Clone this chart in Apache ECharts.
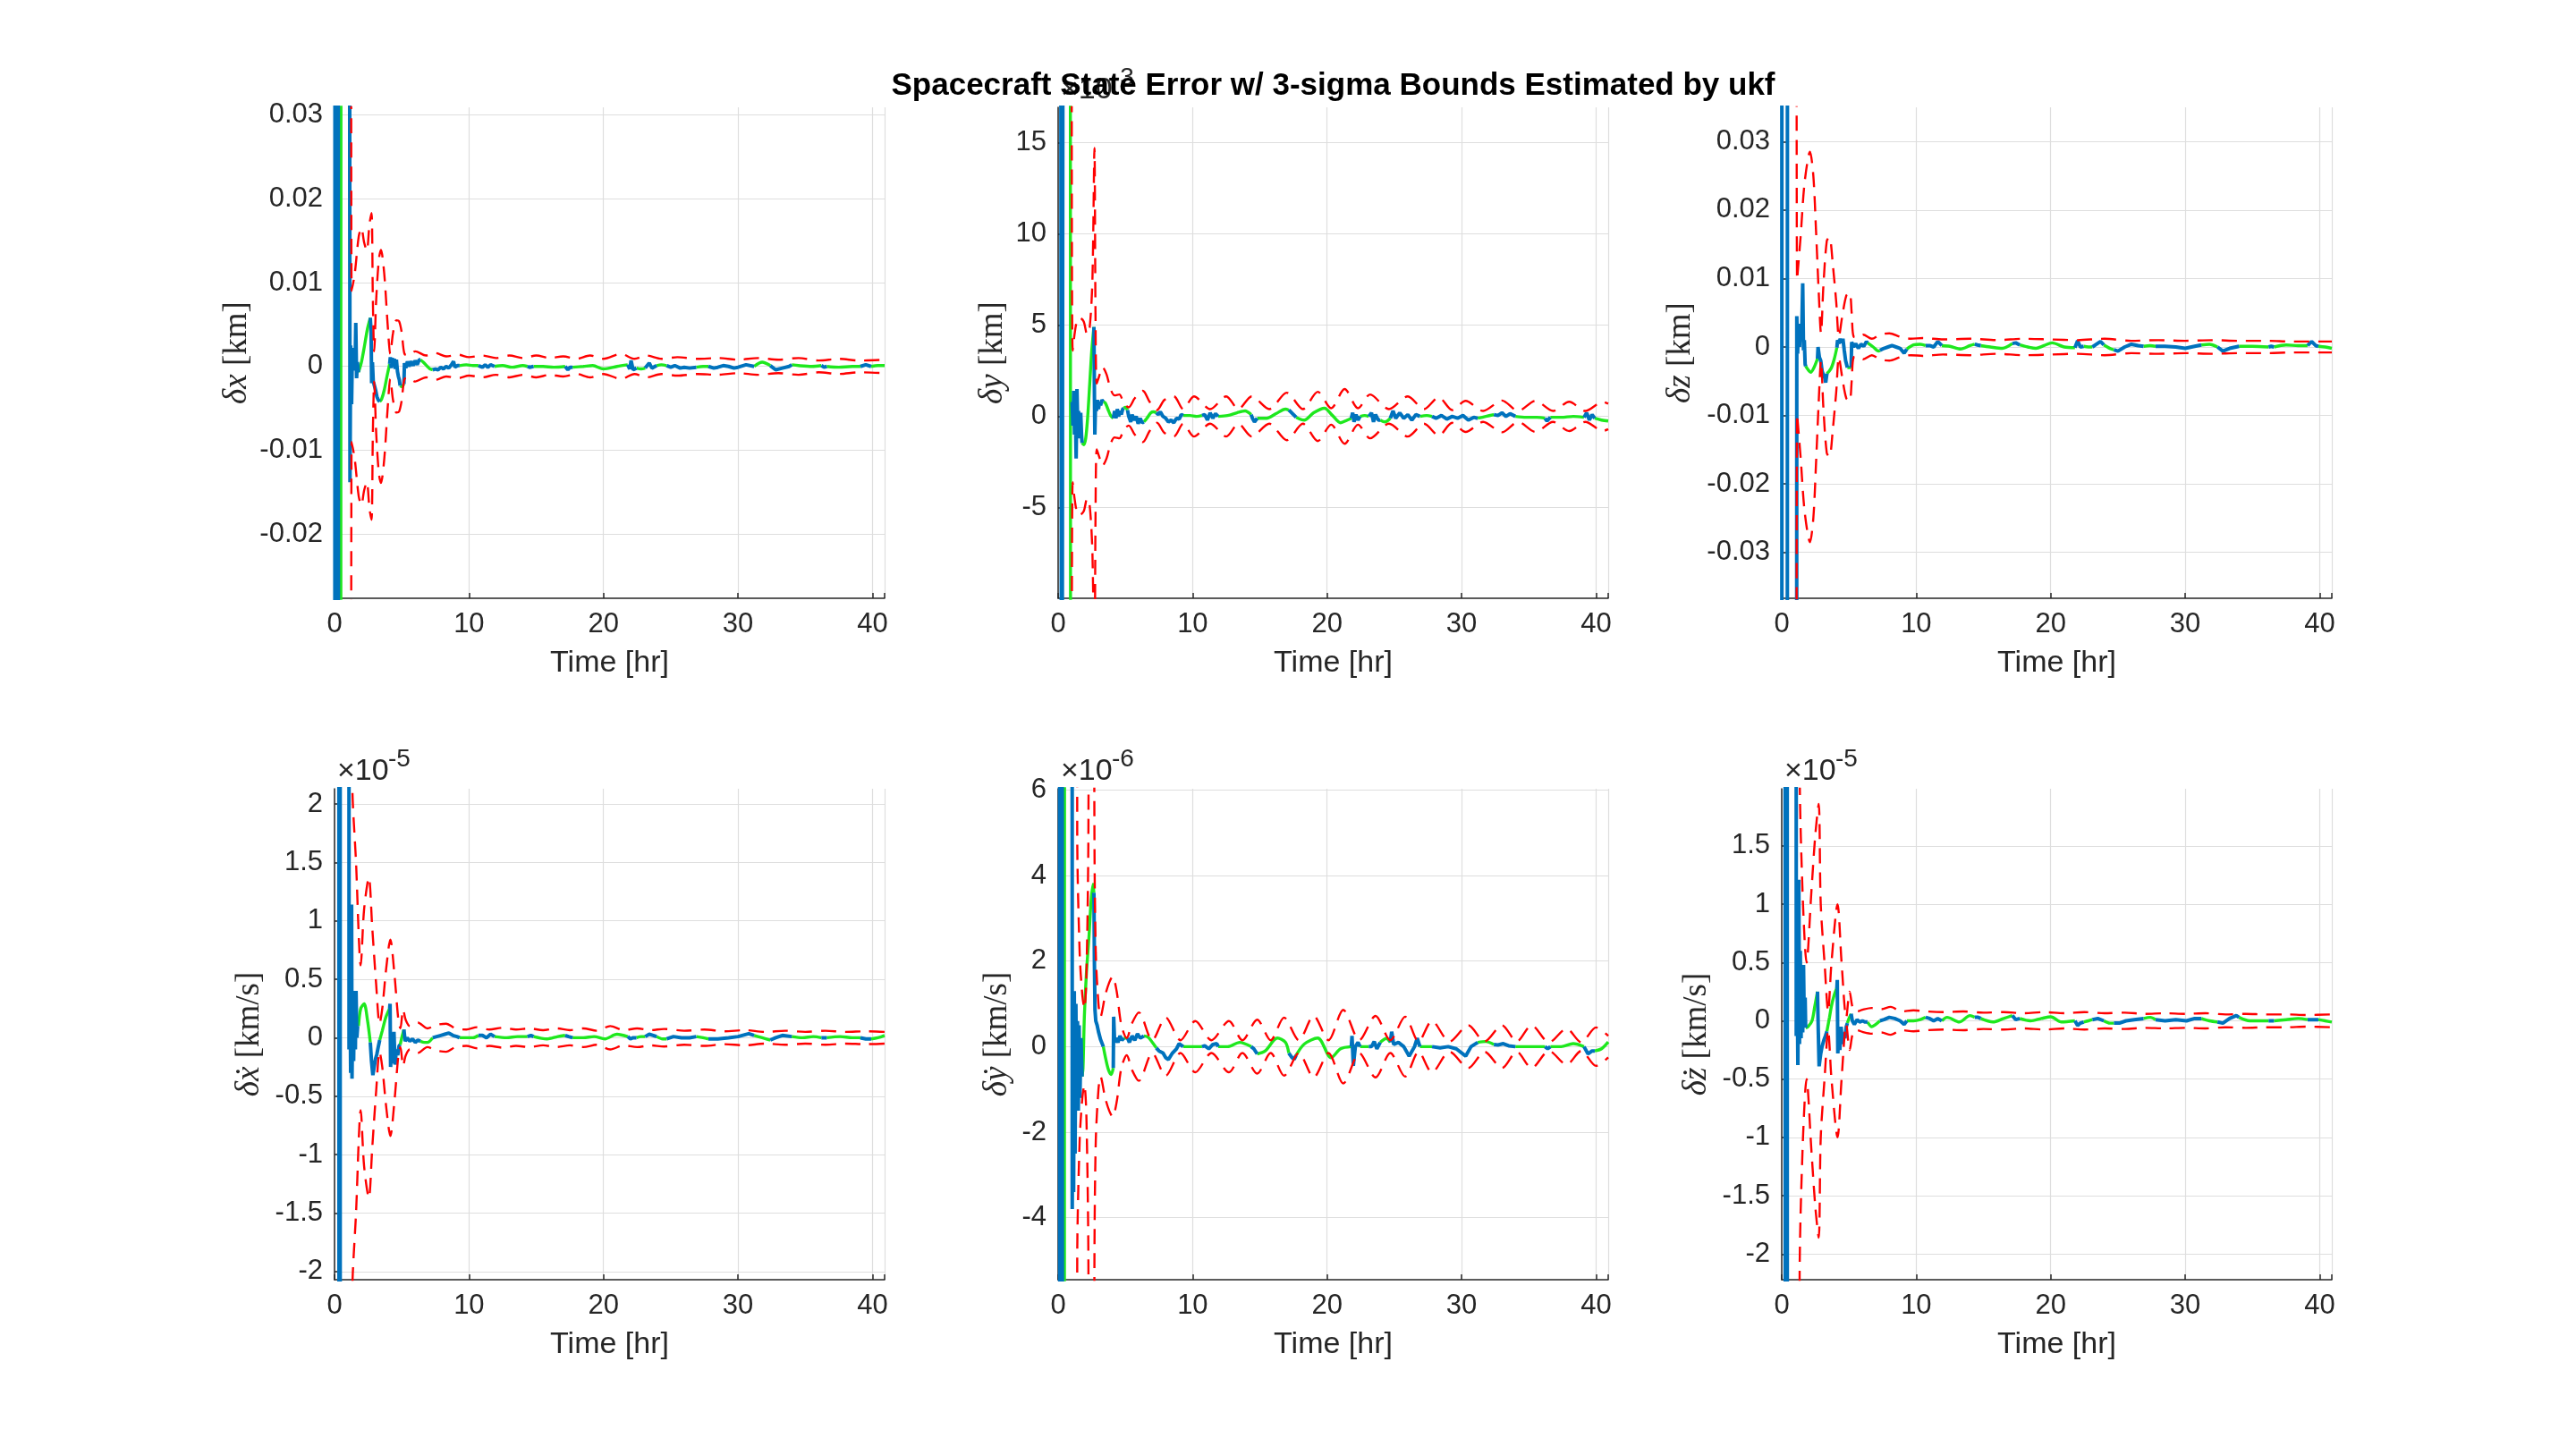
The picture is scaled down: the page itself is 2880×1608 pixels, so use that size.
<!DOCTYPE html>
<html>
<head>
<meta charset="utf-8">
<title>Spacecraft State Error</title>
<script src="https://cdn.jsdelivr.net/npm/echarts@6/dist/echarts.min.js"></script>
<style>
  html, body { margin: 0; padding: 0; background: #fff; }
  #chart { width: 2880px; height: 1608px; }
</style>
</head>
<body>
<div id="chart"></div>
<script>
const titleText = 'Spacecraft State Error w/ 3-sigma Bounds Estimated by ukf';
const timeMax = 40.9;
const xTicks = [0, 10, 20, 30, 40];

// hours where measurements were processed (blue), the rest is propagation (green)
const measWindows = [
  [0, 0.46], [1.03, 1.78], [2.66, 3.36], [4.1, 4.88], [5.16, 6.38],
  [7.3, 9.3], [10.7, 11.9], [14.35, 14.8], [17.15, 17.7], [21.8, 22.45],
  [23.1, 23.95], [24.7, 26.9], [27.8, 31.2], [32.4, 34.0], [36.2, 36.6],
  [39.1, 39.9]
];

// [time hr, error]; null marks a break in the trace
const dxErr = [
  [0, -0.3], [0.06, 0.3], [0.14, -0.3], [0.24, 0.3], [0.32, -0.3], [0.46, -0.3],
  [0.55, 0.3], [1.0, 0.3], [1.1, 0.3], [1.15, -0.0138], [1.2, 0.0025], [1.27, -0.0045],
  [1.33, 0.002], [1.4, -0.0005], [1.47, 0.0022], [1.53, 0.0], [1.58, 0.0052], [1.64, -0.0014],
  [1.7, 0.0005], [1.78, -0.0007],
  [2.0, 0.0005], [2.2, 0.0022], [2.45, 0.0045], [2.66, 0.0058],
  [2.72, 0.004], [2.76, -0.002], [2.82, 0.0005], [2.88, -0.0018], [2.95, -0.0022], [3.05, -0.0028],
  [3.15, -0.0036], [3.25, -0.004], [3.36, -0.0042],
  [3.5, -0.0039], [3.7, -0.0028], [3.9, -0.0012], [4.1, 0.0003],
  [4.15, 0.0011], [4.22, -0.0002], [4.3, 0.001], [4.38, 0.0], [4.45, 0.0009], [4.52, -0.0003],
  [4.6, 0.0008], [4.68, -0.0006], [4.75, -0.0012], [4.82, -0.0016], [4.88, -0.0023],
  [5.0, -0.0024], [5.16, -0.0021],
  [5.2, 0.0004], [5.3, -0.0002], [5.42, 0.0006], [5.55, 0.0], [5.7, 0.0006], [5.85, 0.0001],
  [6.0, 0.0007], [6.15, 0.0002], [6.3, 0.0008], [6.38, 0.0008],
  [6.6, 0.0005], [6.9, 0.0], [7.1, -0.0003], [7.3, -0.0004],
  [7.5, -0.0003], [7.7, -0.0004], [7.9, -0.0001], [8.1, -0.0003], [8.3, 0.0], [8.5, -0.0002],
  [8.7, 0.0002], [8.85, 0.0006], [8.95, -0.0001], [9.15, 0.0001], [9.3, 0.0001],
  [9.8, 0.0002], [10.3, 0.0001], [10.7, 0.0001],
  [11.0, -0.0001], [11.2, 0.0002], [11.4, -0.0001], [11.6, 0.0002], [11.9, 0.0],
  [12.5, 0.0001], [13.2, -0.0001], [14.0, 0.0001], [14.35, 0.0],
  [14.5, -0.0001], [14.8, 0.0],
  [15.5, 0.0], [16.3, -0.0001], [17.15, 0.0],
  [17.35, -0.0004], [17.5, -0.0001], [17.7, -0.0001],
  [18.5, 0.0], [19.2, 0.0001], [20.0, -0.0003], [21.0, 0.0], [21.8, 0.0002],
  [21.95, -0.0003], [22.05, 0.0007], [22.2, -0.0004], [22.45, -0.0002],
  [22.8, -0.0003], [23.1, -0.0002],
  [23.4, 0.0004], [23.6, -0.0002], [23.95, 0.0001],
  [24.3, 0.0002], [24.7, 0.0001],
  [25.0, -0.0001], [25.3, 0.0001], [25.7, -0.0002], [26.0, -0.0001], [26.4, -0.0002], [26.9, -0.0001],
  [27.4, 0.0], [27.8, 0.0],
  [28.2, -0.0002], [28.5, -0.0001], [28.9, 0.0001], [29.3, 0.0], [29.7, -0.0002], [30.0, -0.0001],
  [30.6, 0.0002], [31.2, 0.0],
  [31.8, 0.0005], [32.4, 0.0001],
  [32.8, -0.0004], [33.3, -0.0002], [33.8, 0.0], [34.0, 0.0002],
  [34.5, 0.0001], [35.5, 0.0], [36.2, 0.0001],
  [36.4, -0.0001], [36.6, 0.0],
  [37.5, -0.0001], [38.5, 0.0], [39.1, 0.0],
  [39.5, 0.0002], [39.9, 0.0],
  [40.4, 0.0001], [40.9, 0.0001]
];
const dxSigma = [
  [0, 1], [1.15, 0.8], [1.27, 0.009], [1.5, 0.011], [1.8, 0.0155], [2.0, 0.0165], [2.2, 0.0148],
  [2.4, 0.0138], [2.6, 0.017], [2.75, 0.0183], [2.85, 0.008], [2.95, 0.0018], [3.1, 0.008],
  [3.3, 0.0128], [3.45, 0.0139], [3.7, 0.011], [3.95, 0.005], [4.15, 0.0015], [4.35, 0.004],
  [4.6, 0.0055], [4.8, 0.0054], [5.0, 0.004], [5.2, 0.0015], [5.5, 0.0013], [6.0, 0.0018],
  [6.8, 0.0013], [7.5, 0.0016], [8.3, 0.0012], [9.2, 0.0014], [10, 0.0011], [11, 0.0013],
  [12, 0.001], [13, 0.0013], [14, 0.001], [15, 0.0013], [16, 0.001], [17, 0.0012], [18, 0.0009],
  [19, 0.0013], [20, 0.0009], [21.3, 0.0015], [22.3, 0.0009], [23.2, 0.0013], [24.3, 0.0009],
  [25.5, 0.0011], [27, 0.0009], [28.5, 0.001], [30, 0.0008], [31.5, 0.001], [33, 0.0008],
  [34.5, 0.001], [36, 0.0007], [37.5, 0.0009], [39, 0.0007], [40.9, 0.0008]
];

// δy in 1e-3 km
const dyErr = [
  [0.18, 40], [0.27, -40], [0.38, 40], [0.46, 40], [0.85, 40], [0.95, -40], [1.02, -40], [1.025, null],
  [1.04, 0.8], [1.1, -0.5], [1.16, 1.4], [1.22, -1.0], [1.28, 0.5], [1.34, -2.3], [1.4, 1.5],
  [1.46, -0.6], [1.52, 0.3], [1.6, -1.2], [1.68, 0.2], [1.74, -1.0], [1.78, -1.45],
  [1.9, -1.55], [2.05, -1.2], [2.2, 0.0], [2.35, 1.8], [2.5, 3.6], [2.66, 4.9],
  [2.7, 1.0], [2.73, -1.0], [2.78, 0.7], [2.85, 0.3], [2.92, 0.9], [3.0, 0.4], [3.08, 0.8],
  [3.16, 0.6], [3.25, 0.9], [3.36, 0.8],
  [3.5, 0.75], [3.7, 0.4], [3.9, 0.05], [4.1, -0.1],
  [4.2, 0.3], [4.3, -0.1], [4.4, 0.4], [4.5, 0.0], [4.6, 0.3], [4.7, 0.1], [4.8, 0.4], [4.88, 0.45],
  [5.0, 0.5], [5.16, 0.35],
  [5.25, 0.0], [5.4, -0.3], [5.5, 0.1], [5.65, -0.2], [5.8, 0.0], [5.95, -0.4], [6.1, -0.1],
  [6.25, -0.35], [6.38, -0.3],
  [6.6, -0.1], [6.9, 0.2], [7.1, 0.25], [7.3, 0.2],
  [7.45, 0.1], [7.6, 0.25], [7.8, 0.0], [8.0, -0.1], [8.2, -0.3], [8.4, -0.2], [8.6, -0.35],
  [8.8, -0.1], [9.0, -0.15], [9.15, 0.1], [9.3, 0.05],
  [9.8, 0.05], [10.3, 0.0], [10.7, 0.05],
  [10.9, 0.1], [11.1, -0.2], [11.3, 0.2], [11.5, -0.1], [11.7, 0.15], [11.9, 0.0],
  [12.6, 0.05], [13.3, 0.2], [13.9, 0.3], [14.35, 0.1],
  [14.45, -0.1], [14.6, -0.3], [14.8, -0.1],
  [15.5, -0.1], [16.2, 0.15], [16.9, 0.4], [17.15, 0.35],
  [17.3, 0.25], [17.5, 0.1], [17.7, -0.05],
  [18.3, -0.2], [19.0, 0.2], [19.8, 0.45], [20.4, 0.05], [21.0, -0.35], [21.5, -0.2], [21.8, -0.1],
  [21.9, 0.2], [22.0, -0.3], [22.15, 0.1], [22.3, -0.2], [22.45, 0.0],
  [22.8, 0.05], [23.1, 0.0],
  [23.3, 0.2], [23.45, -0.3], [23.6, 0.1], [23.8, -0.2], [23.95, -0.2],
  [24.3, -0.3], [24.7, -0.1],
  [24.9, 0.3], [25.1, -0.1], [25.4, 0.2], [25.7, -0.1], [26.0, 0.1], [26.3, -0.2], [26.6, 0.1], [26.9, 0.0],
  [27.4, 0.05], [27.8, 0.0],
  [28.1, -0.1], [28.5, 0.05], [28.9, -0.15], [29.3, 0.0], [29.7, -0.1], [30.1, 0.05], [30.5, -0.2],
  [30.9, -0.05], [31.2, -0.1],
  [31.8, 0.0], [32.4, 0.1],
  [32.7, 0.05], [33.0, 0.2], [33.3, 0.0], [33.6, 0.15], [34.0, 0.0],
  [34.8, -0.05], [35.6, -0.05], [36.2, -0.1],
  [36.35, -0.25], [36.6, -0.05],
  [37.4, -0.05], [38.3, 0.0], [39.1, -0.05],
  [39.3, 0.2], [39.5, -0.2], [39.7, 0.1], [39.9, -0.1],
  [40.4, -0.2], [40.9, -0.25]
];
const dySigma = [
  [0, 200], [0.95, 60], [1.08, 3.6], [1.35, 5.1], [1.6, 5.4], [1.9, 5.2], [2.15, 4.5], [2.35, 4.9],
  [2.55, 7.5], [2.7, 14.7], [2.78, 5.5], [2.87, 1.8], [3.05, 2.2], [3.3, 2.7], [3.6, 2.3],
  [3.9, 1.5], [4.2, 1.15], [4.55, 1.2], [4.9, 0.7], [5.25, 0.5], [5.7, 1.0], [6.3, 1.4],
  [6.8, 0.8], [7.35, 0.35], [7.9, 0.9], [8.6, 1.1], [9.3, 0.4], [10.1, 1.1], [11.3, 0.4],
  [12.5, 1.1], [13.4, 0.4], [14.4, 1.1], [15.7, 0.4], [17.0, 1.3], [18.2, 0.4], [19.3, 1.35],
  [20.3, 0.45], [21.3, 1.5], [22.3, 0.45], [23.2, 1.2], [24.6, 0.4], [26.0, 1.1], [27.2, 0.4],
  [28.3, 1.05], [29.3, 0.35], [30.3, 0.85], [31.6, 0.3], [33.0, 0.87], [34.2, 0.3], [35.5, 0.85],
  [36.8, 0.3], [38.0, 0.8], [39.2, 0.3], [40.5, 0.8], [40.9, 0.7]
];

const dzErr = [
  [0, 0.3], [0.02, -0.3], [0.4, -0.3], [0.44, 0.3], [0.46, 0.3], [1.05, 0.3], [1.06, null],
  [1.08, -0.3], [1.12, 0.0045], [1.18, -0.001], [1.25, 0.0034], [1.32, 0.0], [1.4, 0.003],
  [1.48, 0.0015], [1.56, 0.0093], [1.62, -0.0005], [1.68, 0.001], [1.74, -0.0025], [1.78, -0.0028],
  [1.95, -0.0033], [2.15, -0.0037], [2.4, -0.003], [2.66, -0.0017],
  [2.7, 0.0], [2.8, -0.0015], [2.9, -0.002], [3.0, -0.0035], [3.1, -0.0041], [3.2, -0.0045],
  [3.27, -0.0052], [3.36, -0.0039],
  [3.5, -0.0036], [3.7, -0.003], [3.9, -0.0018], [4.1, -0.0001],
  [4.15, 0.001], [4.25, 0.0005], [4.35, 0.0012], [4.45, 0.0006], [4.55, 0.0012], [4.65, -0.0005],
  [4.75, -0.002], [4.88, -0.003],
  [5.0, -0.003], [5.16, -0.003],
  [5.2, 0.0007], [5.35, 0.0], [5.5, 0.0005], [5.7, -0.0002], [5.9, 0.0004], [6.1, 0.0001],
  [6.3, 0.0008], [6.38, 0.0006],
  [6.8, 0.0], [7.2, -0.0006], [7.3, -0.0005],
  [7.6, -0.0002], [7.9, 0.0], [8.2, 0.0002], [8.5, 0.0], [8.8, -0.0002], [9.1, -0.0009], [9.3, -0.0003],
  [9.8, 0.0003], [10.3, 0.0004], [10.7, 0.0002],
  [11.0, 0.0002], [11.3, 0.0], [11.6, 0.0008], [11.9, 0.0002],
  [12.5, 0.0001], [13.3, -0.0003], [14.0, 0.0002], [14.35, 0.0004],
  [14.55, 0.0003], [14.8, 0.0002],
  [15.5, 0.0], [16.4, -0.0002], [17.15, 0.0005],
  [17.4, 0.0006], [17.7, 0.0003],
  [18.3, 0.0], [18.9, -0.0002], [19.5, 0.0002], [20.1, 0.0006], [21.0, 0.0], [21.8, -0.0001],
  [22.0, 0.0009], [22.2, 0.0], [22.45, 0.0001],
  [22.8, 0.0], [23.1, 0.0],
  [23.4, 0.0004], [23.7, 0.0008], [23.95, 0.0003],
  [24.5, -0.0003], [24.7, -0.0004],
  [25.0, -0.0006], [25.5, 0.0], [26.0, 0.0004], [26.5, 0.0002], [26.9, 0.0001],
  [27.4, 0.0002], [27.8, 0.0001],
  [28.5, 0.0001], [29.3, 0.0], [30.0, -0.0002], [30.7, 0.0001], [31.2, 0.0003],
  [31.8, 0.0004], [32.4, 0.0],
  [32.8, -0.0006], [33.3, -0.0002], [34.0, 0.0001],
  [35.0, 0.0001], [36.2, 0.0],
  [36.4, 0.0001], [36.6, 0.0],
  [37.5, 0.0003], [38.4, 0.0002], [39.1, 0.0002],
  [39.4, 0.0008], [39.7, 0.0002], [39.9, 0.0001],
  [40.4, 0.0], [40.9, -0.0002]
];
const dzSigma = [
  [0, 1], [1.05, 0.5], [1.14, 0.0098], [1.4, 0.016], [1.7, 0.024], [2.1, 0.0285], [2.35, 0.025],
  [2.55, 0.017], [2.75, 0.008], [2.92, 0.002], [3.1, 0.009], [3.35, 0.0155], [3.55, 0.016],
  [3.8, 0.012], [4.05, 0.0066], [4.25, 0.0015], [4.5, 0.0045], [4.8, 0.0075], [5.05, 0.0079],
  [5.2, 0.005], [5.35, 0.0015], [5.7, 0.0014], [6.05, 0.0018], [6.7, 0.0012], [7.3, 0.0018],
  [8.0, 0.002], [8.8, 0.0015], [9.6, 0.0012], [10.5, 0.0013], [12, 0.0011], [14, 0.0012],
  [16, 0.001], [18, 0.0012], [20, 0.0011], [22, 0.001], [24, 0.0012], [26, 0.0009], [28, 0.001],
  [30, 0.0009], [32, 0.001], [34, 0.0009], [36, 0.0009], [38, 0.0008], [40.9, 0.0008]
];

// δẋ and δż in 1e-5 km/s, δẏ in 1e-6 km/s
const dvxErr = [
  [0, 30], [0.3, 30], [0.36, -30], [0.4, 30], [0.44, -30], [0.46, -30], [1.0, -30], [1.02, null],
  [1.04, 30], [1.08, -0.1], [1.14, 0.6], [1.2, -0.3], [1.27, 1.14], [1.3, -0.35], [1.36, 0.3],
  [1.42, -0.2], [1.48, 0.4], [1.55, -0.1], [1.6, 0.4], [1.66, 0.0], [1.72, 0.1], [1.78, 0.1],
  [1.95, 0.25], [2.2, 0.29], [2.45, 0.15], [2.66, -0.04],
  [2.75, -0.2], [2.85, -0.32], [2.95, -0.25], [3.05, -0.18], [3.15, -0.14], [3.25, -0.08], [3.36, -0.02],
  [3.55, 0.06], [3.8, 0.17], [4.05, 0.24], [4.1, 0.25],
  [4.13, 0.29], [4.17, -0.25], [4.25, 0.0], [4.32, -0.22], [4.42, 0.05], [4.5, -0.23], [4.6, -0.1],
  [4.7, -0.15], [4.8, -0.07], [4.88, -0.06],
  [5.0, 0.0], [5.16, 0.07],
  [5.25, -0.03], [5.4, 0.0], [5.6, -0.03], [5.8, -0.01], [6.0, -0.04], [6.2, -0.02], [6.38, -0.03],
  [6.7, -0.04], [6.9, -0.04], [7.3, 0.0],
  [7.6, 0.01], [7.9, 0.02], [8.2, 0.03], [8.5, 0.04], [8.8, 0.02], [9.1, 0.01], [9.3, 0.0],
  [9.8, 0.0], [10.3, 0.0], [10.7, 0.02],
  [11.0, 0.02], [11.3, 0.0], [11.6, 0.03], [11.9, 0.01],
  [12.8, 0.0], [13.6, 0.01], [14.35, 0.01],
  [14.6, 0.02], [14.8, 0.01],
  [15.8, -0.01], [16.6, 0.01], [17.15, 0.02],
  [17.4, 0.01], [17.7, 0.0],
  [18.5, 0.0], [19.3, 0.01], [20.1, -0.01], [21.0, 0.03], [21.8, 0.01],
  [22.0, -0.01], [22.2, 0.0], [22.45, 0.0],
  [22.8, 0.01], [23.1, 0.01],
  [23.4, 0.03], [23.7, 0.02], [23.95, 0.01],
  [24.4, -0.01], [24.7, -0.01],
  [25.2, 0.01], [25.8, 0.0], [26.4, 0.0], [26.9, 0.01],
  [27.4, 0.0], [27.8, -0.01],
  [28.5, -0.01], [29.3, 0.0], [30.0, 0.01], [30.8, 0.035], [31.2, 0.02],
  [31.8, 0.0], [32.4, -0.02],
  [32.8, 0.0], [33.3, 0.02], [34.0, 0.01],
  [34.8, 0.0], [35.6, 0.01], [36.2, 0.0],
  [36.4, 0.0], [36.6, 0.0],
  [37.6, 0.01], [38.5, 0.0], [39.1, 0.0],
  [39.5, -0.01], [39.9, -0.01],
  [40.4, 0.0], [40.9, 0.02]
];
const dvxSigma = [
  [0, 100], [1.2, 20], [1.32, 2.2], [1.6, 1.5], [1.95, 0.62], [2.2, 1.1], [2.55, 1.37], [2.8, 0.95],
  [3.1, 0.45], [3.35, 0.12], [3.55, 0.25], [3.85, 0.6], [4.15, 0.84], [4.45, 0.55], [4.75, 0.15],
  [4.9, 0.08], [5.1, 0.24], [5.3, 0.15], [5.6, 0.1], [6.2, 0.13], [6.9, 0.08], [7.6, 0.11],
  [8.3, 0.12], [9.0, 0.08], [9.8, 0.07], [10.6, 0.09], [11.5, 0.07], [12.5, 0.085], [13.5, 0.07],
  [14.5, 0.08], [15.5, 0.065], [16.5, 0.08], [17.5, 0.065], [18.5, 0.08], [19.5, 0.06], [20.5, 0.1],
  [21.5, 0.065], [22.5, 0.08], [23.5, 0.065], [24.5, 0.075], [26, 0.06], [27.5, 0.07], [29, 0.055],
  [30.5, 0.065], [32, 0.05], [33.5, 0.06], [35, 0.05], [36.5, 0.06], [38, 0.05], [39.5, 0.055],
  [40.9, 0.05]
];

const dvyErr = [
  [0.08, 60], [0.16, -60], [0.26, 60], [0.36, -60], [0.46, -60], [0.54, 60], [0.98, 60],
  [1.02, 60], [1.05, -3.8], [1.1, 1.2], [1.15, -3.4], [1.2, 1.3], [1.26, -2.5], [1.32, 1.0],
  [1.38, -1.5], [1.44, 0.6], [1.5, -1.5], [1.56, 0.5], [1.62, -1.2], [1.7, 0.2], [1.78, -0.7],
  [1.85, -0.5], [1.95, 0.7], [2.1, 1.7], [2.3, 2.6], [2.45, 3.4], [2.6, 3.8], [2.66, 3.6],
  [2.7, 1.9], [2.74, 0.86], [2.8, 0.6], [2.9, 0.5], [3.0, 0.35], [3.15, 0.17], [3.36, 0.0],
  [3.55, -0.3], [3.75, -0.55], [3.95, -0.65], [4.1, -0.5],
  [4.13, 0.7], [4.2, 0.1], [4.3, 0.2], [4.45, 0.1], [4.6, 0.25], [4.75, 0.15], [4.88, 0.2],
  [5.0, 0.2], [5.16, 0.2],
  [5.3, 0.1], [5.5, 0.25], [5.7, 0.15], [5.9, 0.3], [6.1, 0.2], [6.38, 0.25],
  [6.7, 0.22], [7.0, 0.1], [7.3, -0.03],
  [7.5, -0.1], [7.8, -0.15], [8.0, -0.26], [8.2, -0.3], [8.5, -0.15], [8.8, -0.05], [9.0, 0.07], [9.3, 0.0],
  [9.8, 0.0], [10.3, 0.0], [10.7, 0.0],
  [10.9, 0.02], [11.2, -0.05], [11.5, 0.05], [11.8, 0.07], [11.9, 0.0],
  [12.6, 0.0], [13.5, 0.1], [14.35, 0.0],
  [14.55, -0.05], [14.8, -0.17],
  [15.4, -0.1], [16.3, 0.2], [16.9, 0.1], [17.15, -0.15],
  [17.4, -0.26], [17.55, -0.3], [17.7, -0.2],
  [18.3, 0.06], [19.3, 0.2], [20.3, -0.26], [21.0, -0.05], [21.8, 0.0],
  [21.85, 0.25], [21.95, -0.45], [22.1, 0.0], [22.3, 0.1], [22.45, 0.0],
  [22.8, 0.0], [23.1, 0.0],
  [23.3, 0.0], [23.5, 0.12], [23.7, -0.05], [23.95, 0.1],
  [24.4, 0.19], [24.7, 0.1],
  [24.8, 0.35], [24.95, 0.05], [25.3, 0.1], [25.7, 0.0], [26.1, -0.22], [26.5, 0.0], [26.7, 0.2], [26.9, 0.0],
  [27.4, 0.0], [27.8, 0.0],
  [28.4, -0.03], [29.0, 0.0], [29.6, -0.05], [30.3, -0.22], [30.7, 0.0], [31.2, 0.1],
  [31.8, 0.12], [32.4, 0.05],
  [32.7, 0.04], [33.1, 0.07], [33.5, 0.02], [34.0, 0.0],
  [34.8, 0.0], [35.6, 0.0], [36.2, 0.0],
  [36.4, -0.05], [36.6, 0.0],
  [37.4, 0.0], [38.3, 0.07], [39.1, 0.0],
  [39.4, -0.17], [39.7, -0.1], [39.9, -0.1],
  [40.4, -0.05], [40.9, 0.11]
];
const dvySigma = [
  [0, 300], [1.3, 100], [1.42, 5], [1.6, 2.2], [1.8, 1.2], [1.95, 0.9], [2.1, 1.6], [2.25, 5],
  [2.35, 20], [2.6, 20], [2.7, 5], [2.8, 2.2], [3.0, 1.0], [3.15, 0.7], [3.5, 1.2], [3.8, 1.5],
  [4.05, 1.64], [4.35, 1.3], [4.7, 0.5], [5.1, 0.2], [5.5, 0.55], [6.0, 0.8], [7.0, 0.15],
  [8.0, 0.68], [9.1, 0.15], [10.2, 0.6], [11.4, 0.15], [12.7, 0.6], [13.7, 0.15], [14.8, 0.63],
  [15.8, 0.15], [16.8, 0.68], [17.9, 0.15], [19.0, 0.72], [20.1, 0.15], [21.2, 0.86], [22.4, 0.15],
  [23.6, 0.72], [24.7, 0.15], [25.8, 0.7], [26.8, 0.12], [27.8, 0.6], [29.1, 0.12], [30.5, 0.5],
  [31.7, 0.12], [33.0, 0.5], [34.1, 0.12], [35.2, 0.5], [36.5, 0.1], [37.8, 0.42], [38.9, 0.1],
  [40.0, 0.45], [40.9, 0.25]
];

const dvzErr = [
  [0, 30], [0.22, 30], [0.3, -30], [0.38, 30], [0.44, -30], [0.46, -30], [1.0, -30], [1.02, null],
  [1.04, 30], [1.08, -0.13], [1.14, 0.5], [1.2, -0.38], [1.27, 1.21], [1.32, -0.2], [1.38, 0.6],
  [1.44, -0.15], [1.5, 0.4], [1.56, -0.1], [1.62, 0.48], [1.68, -0.05], [1.74, 0.2], [1.78, -0.06],
  [1.95, -0.05], [2.25, 0.0], [2.45, 0.12], [2.66, 0.25],
  [2.72, -0.1], [2.78, -0.39], [2.9, -0.28], [3.0, -0.22], [3.15, -0.16], [3.25, -0.13], [3.36, -0.09],
  [3.55, 0.03], [3.7, 0.13], [3.9, 0.22], [4.05, 0.27], [4.1, 0.28],
  [4.13, 0.35], [4.17, -0.28], [4.25, -0.1], [4.32, -0.25], [4.42, -0.05], [4.5, -0.2], [4.6, -0.1],
  [4.7, -0.15], [4.8, -0.05], [4.88, -0.02],
  [5.0, 0.02], [5.16, 0.06],
  [5.25, 0.0], [5.4, -0.03], [5.6, 0.01], [5.8, -0.01], [6.0, 0.0], [6.2, -0.01], [6.38, -0.01],
  [6.7, -0.05], [7.0, -0.03], [7.3, 0.0],
  [7.6, 0.01], [8.0, 0.03], [8.4, 0.02], [8.8, 0.0], [9.1, -0.03], [9.3, 0.0],
  [9.8, 0.0], [10.3, 0.01], [10.7, 0.03],
  [11.0, 0.02], [11.3, 0.0], [11.6, 0.02], [11.9, 0.0],
  [12.3, 0.03], [13.2, -0.01], [14.0, 0.045], [14.35, 0.03],
  [14.6, 0.03], [14.8, 0.02],
  [15.7, -0.01], [16.5, 0.02], [17.15, 0.045],
  [17.4, 0.01], [17.7, 0.02],
  [18.5, 0.0], [19.3, 0.02], [20.0, 0.035], [20.8, -0.01], [21.8, 0.0],
  [22.0, -0.04], [22.2, -0.02], [22.45, -0.01],
  [22.8, 0.0], [23.1, 0.01],
  [23.5, 0.02], [23.95, 0.0],
  [24.4, -0.02], [24.7, -0.02],
  [25.1, -0.02], [25.6, 0.0], [26.2, 0.01], [26.9, 0.02],
  [27.4, 0.03], [27.8, 0.01],
  [28.5, 0.0], [29.3, 0.01], [30.1, 0.0], [30.7, 0.02], [31.2, 0.02],
  [31.8, 0.0], [32.4, -0.01],
  [32.8, -0.02], [33.3, 0.02], [33.8, 0.045], [34.0, 0.03],
  [34.8, 0.0], [35.6, 0.0], [36.2, 0.0],
  [36.4, 0.0], [36.6, 0.0],
  [37.5, 0.01], [38.4, 0.02], [39.1, 0.01],
  [39.5, 0.01], [39.9, 0.01],
  [40.4, 0.0], [40.9, -0.01]
];
const dvzSigma = [
  [0, 100], [1.2, 20], [1.33, 2.2], [1.55, 1.1], [1.85, 0.5], [2.2, 1.1], [2.5, 1.6], [2.75, 1.86],
  [2.9, 1.0], [3.2, 0.47], [3.45, 0.08], [3.7, 0.5], [4.15, 1.0], [4.45, 0.5], [4.8, 0.03],
  [5.05, 0.25], [5.3, 0.1], [5.6, 0.08], [6.0, 0.095], [6.7, 0.11], [7.4, 0.1], [8.1, 0.12],
  [8.9, 0.08], [9.8, 0.09], [10.8, 0.08], [12, 0.075], [13.5, 0.08], [15, 0.07], [16.5, 0.075],
  [18, 0.065], [19.5, 0.075], [21, 0.065], [22.5, 0.075], [24, 0.065], [25.5, 0.07], [27, 0.06],
  [28.5, 0.065], [30, 0.06], [31.5, 0.065], [33, 0.055], [34.5, 0.06], [36, 0.055], [37.5, 0.055],
  [39, 0.05], [40.9, 0.055]
];

const yNames = ['{i|δx} [km]', '{i|δy} [km]', '{i|δz} [km]', '{i|δẋ} [km/s]', '{i|δẏ} [km/s]', '{i|δż} [km/s]'];
const yRanges = [[-0.02765, 0.0309], [-9.96, 16.93], [-0.0367, 0.035], [-2.07, 2.13], [-5.45, 6.03], [-2.22, 1.99]];
const yTicks = [
  [-0.02, -0.01, 0, 0.01, 0.02, 0.03],
  [-5, 0, 5, 10, 15],
  [-0.03, -0.02, -0.01, 0, 0.01, 0.02, 0.03],
  [-2, -1.5, -1, -0.5, 0, 0.5, 1, 1.5, 2],
  [-4, -2, 0, 2, 4, 6],
  [-2, -1.5, -1, -0.5, 0, 0.5, 1, 1.5]
];
const yExponents = ['', '-3', '', '-5', '-6', '-5'];
const errSeries = [dxErr, dyErr, dzErr, dvxErr, dvyErr, dvzErr];
const sigmaSeries = [dxSigma, dySigma, dzSigma, dvxSigma, dvySigma, dvzSigma];

// layout
const gridLefts = [374, 1183, 1992];
const gridTops = [120, 882];
const gridW = 615, gridH = 549;
const nameGaps = [90, 54, 94, 76, 49, 76];
const ink = '#262626';

function splitByMeasurement(points) {
  const blue = [], green = [];
  const last = { b: -1, g: -1 };
  const measured = t => measWindows.some(([a, b]) => t >= a && t <= b);
  for (let i = 1; i < points.length; i++) {
    const p = points[i - 1], q = points[i];
    if (p[1] === null || q[1] === null) continue;
    const key = measured((p[0] + q[0]) / 2) ? 'b' : 'g';
    const out = key === 'b' ? blue : green;
    if (last[key] !== i - 1) {
      if (out.length) out.push([p[0], '-']);
      out.push(p);
    }
    out.push(q);
    last[key] = i;
  }
  return { blue, green };
}

const chart = echarts.init(document.getElementById('chart'), null, { renderer: 'canvas' });

const grid = [], xAxis = [], yAxis = [], series = [], graphic = [];
for (let i = 0; i < 6; i++) {
  const left = gridLefts[i % 3], top = gridTops[Math.floor(i / 3)];
  grid.push({ left, top, width: gridW, height: gridH });
  xAxis.push({
    type: 'value', gridIndex: i, min: 0, max: timeMax, interval: 10,
    name: 'Time [hr]', nameLocation: 'middle', nameGap: 56,
    nameTextStyle: { fontFamily: 'Liberation Sans', fontSize: 34, color: ink },
    axisLine: { show: true, onZero: false, lineStyle: { color: ink, width: 1.5 } },
    axisTick: { show: true, inside: true, length: 6, lineStyle: { color: ink, width: 1.5 } },
    axisLabel: { fontFamily: 'Liberation Sans', fontSize: 31, color: ink, margin: 14,
      customValues: xTicks, formatter: v => String(v) },
    splitLine: { show: true, lineStyle: { color: '#dedede', width: 1.2 } }
  });
  yAxis.push({
    type: 'value', gridIndex: i, min: yRanges[i][0], max: yRanges[i][1],
    name: yNames[i], nameLocation: 'middle', nameGap: nameGaps[i],
    nameTextStyle: {
      fontFamily: 'Liberation Serif', fontSize: 37, color: ink,
      rich: { i: { fontFamily: 'Liberation Serif', fontStyle: 'italic', fontSize: 37, color: ink } }
    },
    axisLine: { show: true, onZero: false, lineStyle: { color: ink, width: 1.5 } },
    axisTick: { show: true, inside: true, length: 6, customValues: yTicks[i], lineStyle: { color: ink, width: 1.5 } },
    axisLabel: { fontFamily: 'Liberation Sans', fontSize: 31, color: ink, margin: 13,
      customValues: yTicks[i], formatter: v => String(v) },
    splitLine: { show: true, lineStyle: { color: '#dedede', width: 1.2 } }
  });

  const { blue, green } = splitByMeasurement(errSeries[i]);
  const base = { type: 'line', xAxisIndex: i, yAxisIndex: i, symbol: 'none', silent: true, clip: true };
  const dashed = { color: '#ff0000', width: 2.4, type: [17, 10] };
  series.push({ ...base, name: 'propagated', data: green, smooth: 0.3, lineStyle: { color: '#1ee81e', width: 3.4 } });
  series.push({ ...base, name: 'estimated', data: blue, lineStyle: { color: '#0072bd', width: 4 } });
  series.push({ ...base, name: '+3σ', data: sigmaSeries[i], smooth: 0.3, lineStyle: dashed });
  series.push({ ...base, name: '-3σ', data: sigmaSeries[i].map(([t, s]) => [t, -s]), smooth: 0.3, lineStyle: dashed });

  if (yExponents[i]) {
    graphic.push({
      type: 'text', x: left + 3, y: top - 19, z: 10,
      style: { text: '×10', font: '34px "Liberation Sans"', fill: ink, align: 'left', verticalAlign: 'middle' }
    });
    graphic.push({
      type: 'text', x: left + 60, y: top - 33, z: 10,
      style: { text: yExponents[i], font: '28px "Liberation Sans"', fill: ink, align: 'left', verticalAlign: 'middle' }
    });
  }
}

graphic.push({
  type: 'text', x: gridLefts[1] + gridW / 2, y: 96, z: 11,
  style: { text: titleText, font: 'bold 35px "Liberation Sans"', fill: '#000', align: 'center', verticalAlign: 'middle' }
});

chart.setOption({
  animation: false,
  backgroundColor: '#ffffff',
  textStyle: { fontFamily: 'Liberation Sans' },
  grid, xAxis, yAxis, series, graphic
});
</script>
</body>
</html>
